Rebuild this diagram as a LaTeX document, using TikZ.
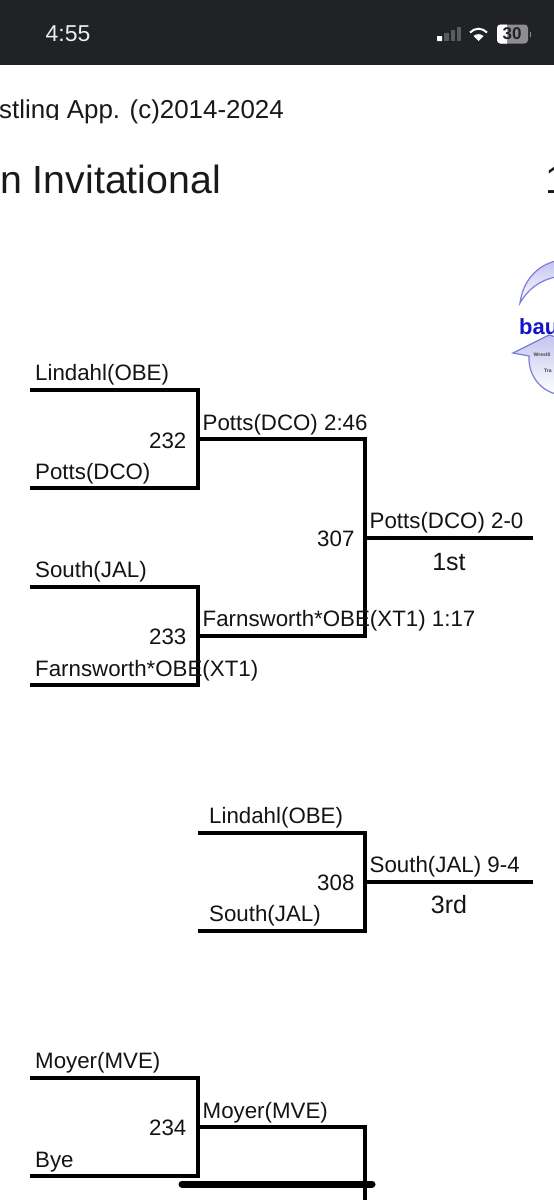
\documentclass[tikz,border=0pt]{standalone}
\usepackage{fontspec}
\setmainfont{Liberation Sans}
\usetikzlibrary{shadings}
\definecolor{barbg}{HTML}{212226}
\definecolor{logoedge}{HTML}{7C7CDC}
\definecolor{logofill}{HTML}{C4C4F0}
\definecolor{logoblue}{HTML}{1414C8}
\definecolor{dimbar}{HTML}{5A5B5F}
\definecolor{battgrey}{HTML}{8E8E90}
\tikzset{
  x=1pt,y=-1pt,
  wire/.style={draw=black,line width=4pt,line join=miter,line cap=butt},
  wrestler/.style={anchor=base west,inner sep=0pt,font=\fontsize{22.3}{22}\selectfont,text=black!92},
  placing/.style={anchor=base,inner sep=0pt,font=\fontsize{25}{25}\selectfont,text=black!92},
  headtext/.style={anchor=base west,inner sep=0pt,text=black!90},
  logoshape/.style={draw=logoedge,line width=1.2pt,top color=logofill,bottom color=white},
}
\begin{document}
\begin{tikzpicture}
\useasboundingbox (0,0) rectangle (554,1200);
\clip (0,0) rectangle (554,1200);
\fill[white] (0,0) rectangle (554,1200);
% status bar
\fill[barbg] (0,0) rectangle (554,65);
\node[headtext,text=white!92!barbg,font=\fontsize{23}{23}\selectfont] (clock) at (45.5,41) {4:55};
\fill[white,rounded corners=0.5pt] (437,36) rectangle (442,41);
\fill[dimbar] (444,33) rectangle (449,41);
\fill[dimbar] (450.5,30) rectangle (455,41);
\fill[dimbar] (456.5,27) rectangle (461,41);
\fill[white] (478.5,41) -- (473.5,36) .. controls (476,33.5) and (481,33.5) .. (483.5,36) -- cycle;
\draw[white,line width=2pt] (470,32.5) .. controls (475,27.5) and (482,27.5) .. (487,32.5);
\fill[battgrey,rounded corners=3.5pt] (497,24.5) rectangle (528,43.5);
\begin{scope}
\clip (497,24.5) rectangle (507,43.5);
\fill[white,rounded corners=3.5pt] (497,24.5) rectangle (528,43.5);
\end{scope}
\fill[battgrey] (529.5,31.5) rectangle (531,36.5);
\node[inner sep=0pt,text=barbg,font=\bfseries\fontsize{17}{17}\selectfont] (batt) at (512,34) {30};
% header texts
\node[headtext,font=\fontsize{25.9}{26}\selectfont] (app) at (-1,118) {stling App. (c)2014-2024};
\fill[white] (0,120) rectangle (60,126);
\node[headtext,font=\fontsize{39.3}{39}\selectfont] (title) at (0,193) {n Invitational};
\node[headtext,font=\fontsize{39.3}{39}\selectfont] (num) at (545,193) {1};
% logo
\path[logoshape] (520,303) .. controls (523,280) and (538,265) .. (556,261) -- (556,277)
  .. controls (540,280) and (528,289) .. (520,303) -- cycle;
\node[headtext,text=logoblue,font=\bfseries\fontsize{22}{22}\selectfont] (bau) at (519,334) {bau};
\path[logoshape] (513,353) -- (549,335) -- (556,337) -- (556,394)
  .. controls (540,390) and (528,375) .. (529,356) -- cycle;
\node[headtext,font=\bfseries\fontsize{5}{5}\selectfont,text=black!75] (logoa) at (533.5,356) {Wrestli};
\node[headtext,font=\bfseries\fontsize{5}{5}\selectfont,text=black!75] (logob) at (544,372) {Tra};
% bracket 232
\coordinate (a1) at (30,390); \coordinate (a2) at (30,488);
\coordinate (a3) at (198,439); \coordinate (a4) at (365,439);
\coordinate (b1) at (30,587); \coordinate (b2) at (30,685);
\coordinate (b3) at (198,636); \coordinate (b4) at (365,636);
\coordinate (c1) at (365,538); \coordinate (c2) at (533,538);
\draw[wire] (a1) -| (a3) |- (a2);
\draw[wire] (a3) -- (a4) -- (b4) -- (b3);
\draw[wire] (b1) -| (b3) |- (b2);
\draw[wire] (c1) -- (c2);
\node[wrestler] (n1) at (35,380) {Lindahl(OBE)};
\node[wrestler] (n2) at (35,479) {Potts(DCO)};
\node[wrestler] (n3) at (35,577) {South(JAL)};
\node[wrestler] (n4) at (35,676) {Farnsworth*OBE(XT1)};
\node[wrestler] (n5) at (202.5,430) {Potts(DCO) 2:46};
\node[wrestler] (n6) at (202.5,626) {Farnsworth*OBE(XT1) 1:17};
\node[wrestler] (n7) at (369.5,528) {Potts(DCO) 2-0};
\node[wrestler] (m232) at (149,448) {232};
\node[wrestler] (m233) at (149,644) {233};
\node[wrestler] (m307) at (317,546) {307};
\node[placing] (first) at (449,570) {1st};
% bracket 308
\coordinate (d1) at (198,833); \coordinate (d2) at (198,931);
\coordinate (d3) at (365,882); \coordinate (d4) at (533,882);
\draw[wire] (d1) -| (d3) |- (d2);
\draw[wire] (d3) -- (d4);
\node[wrestler] (n8) at (209,823) {Lindahl(OBE)};
\node[wrestler] (n9) at (209,921) {South(JAL)};
\node[wrestler] (n10) at (369.5,872) {South(JAL) 9-4};
\node[wrestler] (m308) at (317,890) {308};
\node[placing] (third) at (449,913) {3rd};
% bracket 234
\coordinate (e1) at (30,1078); \coordinate (e2) at (30,1176);
\coordinate (e3) at (198,1127); \coordinate (e4) at (365,1127);
\coordinate (e5) at (365,1200);
\draw[wire] (e1) -| (e3) |- (e2);
\draw[wire] (e3) -- (e4) -- (e5);
\node[wrestler] (n11) at (35,1068) {Moyer(MVE)};
\node[wrestler] (n12) at (35,1167) {Bye};
\node[wrestler] (n13) at (202.5,1118) {Moyer(MVE)};
\node[wrestler] (m234) at (149,1135) {234};
% home indicator
\coordinate (h1) at (182,1184); \coordinate (h2) at (372,1184);
\draw[black,line width=7pt,line cap=round] (h1) -- (h2);
\end{tikzpicture}
\end{document}
